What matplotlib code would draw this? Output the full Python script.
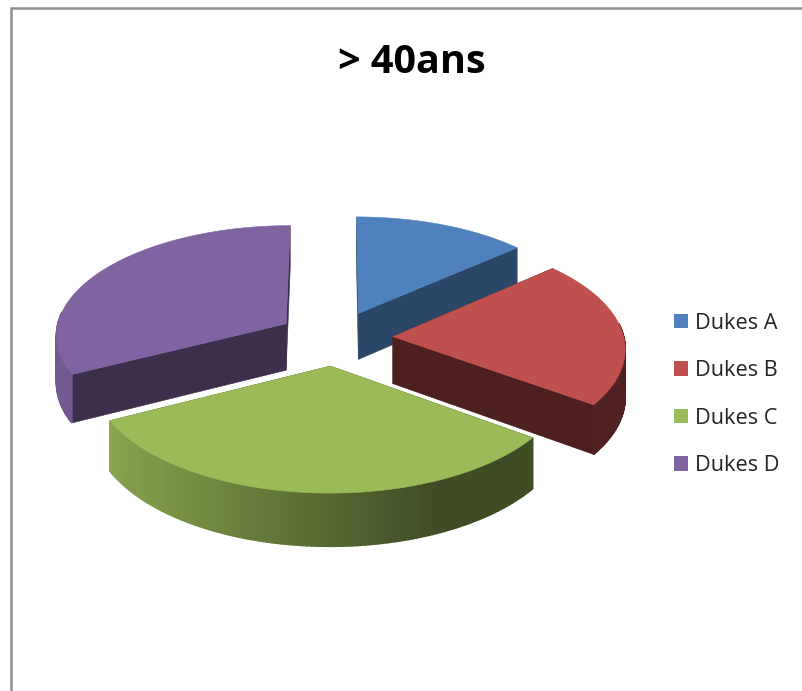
import numpy as np
import matplotlib
matplotlib.use("Agg")
import matplotlib.pyplot as plt
from matplotlib.patches import Polygon, Patch
from matplotlib.colors import to_rgb

# Data
categories = ["Dukes A", "Dukes B", "Dukes C", "Dukes D"]
values = [13.5, 21.5, 32.5, 32.5]
colors = ["#4f81bd", "#c0504d", "#9bbb59", "#8064a2"]
face_shade = [0.55, 0.40, 0.41, 0.47]
title = "> 40ans"

# 3-D projection settings (pixel units)
CX, CY = 335, 338
R, EXPLODE, DEPTH = 231, 58, 47
TILT, PERSP = 0.475, 0.0004


def project(X, Y, Z=0.0):
    s = 1.0 / (1.0 - PERSP * np.asarray(Y, float))
    return CX + np.asarray(X) * s, CY + (TILT * np.asarray(Y) + Z) * s


def shade(theta):
    """Shade of the outer wall from its facing direction (angle from top, clockwise)."""
    t = np.clip((np.sin(theta) + 0.95) / 1.35, 0, 1)
    return 0.90 - (0.90 - 0.41) * t


fig = plt.figure(figsize=(8.02, 6.91), dpi=100)
ax = fig.add_axes([0, 0, 1, 1])
ax.set_xlim(0, 802)
ax.set_ylim(691, 0)
ax.axis("off")

ax.plot([10.5, 10.5, 803], [692, 7.5, 7.5], color="#8e8e8e", lw=1.8, solid_joinstyle="miter")

fracs = np.array(values, float) / sum(values)
ends = np.cumsum(fracs) * 2 * np.pi
starts = ends - fracs * 2 * np.pi


def wedge_parts(i):
    a0, a1 = starts[i], ends[i]
    mid = (a0 + a1) / 2
    ox, oy = EXPLODE * np.sin(mid), -EXPLODE * np.cos(mid)
    th = np.linspace(a0, a1, 120)
    wx, wy = ox + R * np.sin(th), oy - R * np.cos(th)
    return ox, oy, th, wx, wy


def poly(pts, color, z, lw=0.4):
    ax.add_patch(Polygon(pts, closed=True, facecolor=color, edgecolor=color, lw=lw, zorder=z))


def side_quad(x0, y0, x1, y1, color, z, lw=0.4):
    a = project(x0, y0)
    b = project(x1, y1)
    c = project(x1, y1, DEPTH)
    d = project(x0, y0, DEPTH)
    poly([a, b, c, d], color, z, lw)


for order, i in enumerate([3, 0, 1, 2]):
    base = np.array(to_rgb(colors[i]))
    ox, oy, th, wx, wy = wedge_parts(i)
    z = 2 + order * 3
    dark = tuple(base * face_shade[i])
    # cut faces
    side_quad(ox, oy, wx[0], wy[0], dark, z)
    side_quad(ox, oy, wx[-1], wy[-1], dark, z)
    # outer wall, only where it faces the viewer
    for k in range(len(th) - 1):
        m = (th[k] + th[k + 1]) / 2
        if np.cos(m) < 0.12:
            side_quad(wx[k], wy[k], wx[k + 1], wy[k + 1], tuple(base * shade(m)), z + 1, lw=1.2)
    # top
    px, py = project(np.r_[ox, wx], np.r_[oy, wy])
    poly(np.c_[px, py], colors[i], z + 2)

handles = [Patch(facecolor=c, edgecolor="none") for c in colors]
ax.legend(handles, categories, loc="upper left", bbox_to_anchor=(665 / 802, 1 - 304 / 691),
          frameon=False, prop={"family": "Open Sans", "size": 15.6}, labelcolor="#222222",
          handlelength=0.64, handleheight=0.64, handletextpad=0.36, labelspacing=1.22,
          borderpad=0.4, borderaxespad=0)

ax.text(412, 62, title, ha="center", va="center", family="Open Sans", weight="bold",
        fontsize=28.5, color="black")

fig.savefig("out.png", dpi=100)
